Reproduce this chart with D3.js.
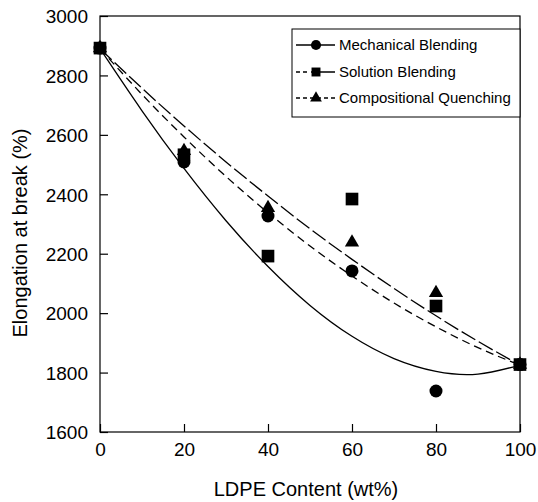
<!DOCTYPE html>
<html>
<head>
<meta charset="utf-8">
<script src="https://cdn.jsdelivr.net/npm/d3@7"></script>
<style>
  body { margin: 0; background: #fff; }
  svg { display: block; }
  text { font-family: "Liberation Sans", Arial, sans-serif; fill: #000; }
</style>
</head>
<body>
<svg id="chart" width="538" height="502"></svg>
<script>
// ---- data ----
const ldpe = [0, 20, 40, 60, 80, 100];
const mechanical = [2892, 2509, 2327, 2142, 1738, 1827];
const solution = [2892, 2533, 2192, 2384, 2024, 1827];
const quenching = [2892, 2546, 2354, 2238, 2068, 1827];

// fitted trend curves
const fitX = [0, 10, 20, 30, 40, 50, 60, 70, 80, 90, 100];
const mechanicalFit = [2890, 2681, 2487, 2311, 2157, 2026, 1922, 1847, 1804, 1795, 1825];
const solutionFit = [2890, 2757, 2630, 2509, 2394, 2284, 2181, 2083, 1991, 1905, 1825];
const quenchingFit = [2890, 2736, 2593, 2460, 2338, 2226, 2125, 2034, 1954, 1884, 1825];

const xTicks = [0, 20, 40, 60, 80, 100];
const yTicks = [1600, 1800, 2000, 2200, 2400, 2600, 2800, 3000];
const legendLabels = ["Mechanical Blending", "Solution Blending", "Compositional Quenching"];

// ---- drawing ----
const svg = d3.select("#chart");
const x = d3.scaleLinear().domain([0, 100]).range([100, 520]);
const y = d3.scaleLinear().domain([1600, 3000]).range([432, 16]);

// frame
svg.append("rect").attr("x", 100).attr("y", 16).attr("width", 420).attr("height", 416)
  .attr("fill", "none").attr("stroke", "#000").attr("stroke-width", 1.2);

// axes with inward ticks
const xAxis = svg.append("g").attr("transform", "translate(0,432)")
  .call(d3.axisBottom(x).tickValues(xTicks).tickSizeInner(-8).tickSizeOuter(0).tickPadding(0).tickFormat(d3.format("d")));
xAxis.select(".domain").remove();
xAxis.selectAll("line").attr("stroke", "#000").attr("stroke-width", 1.2);
xAxis.selectAll("text").attr("y", 24).attr("dy", 0).style("font-size", "19px")
  .style("font-family", "'Liberation Sans', Arial, sans-serif");

const yAxis = svg.append("g").attr("transform", "translate(100,0)")
  .call(d3.axisLeft(y).tickValues(yTicks).tickSizeInner(-8).tickSizeOuter(0).tickPadding(0).tickFormat(d3.format("d")));
yAxis.select(".domain").remove();
yAxis.selectAll("line").attr("stroke", "#000").attr("stroke-width", 1.2);
yAxis.selectAll("text").attr("x", -12).attr("dy", "0.36em").style("font-size", "19px")
  .style("font-family", "'Liberation Sans', Arial, sans-serif");

// axis titles
svg.append("text").attr("x", 306).attr("y", 496).attr("text-anchor", "middle")
  .style("font-size", "20px").text("LDPE Content (wt%)");
svg.append("text").attr("transform", "translate(27,233) rotate(-90)").attr("text-anchor", "middle")
  .style("font-size", "20px").text("Elongation at break (%)");

// fit curves
const line = d3.line().x(d => x(d[0])).y(d => y(d[1])).curve(d3.curveNatural);
const styles = [
  { fit: mechanicalFit, dash: null, sym: d3.symbolCircle, size: 133, vals: mechanical, legDash: null },
  { fit: solutionFit, dash: "16,4", sym: d3.symbolSquare, size: 160, vals: solution, legDash: "4,3,4,4,40" },
  { fit: quenchingFit, dash: "8,5", sym: d3.symbolTriangle, size: 88, vals: quenching, legDash: "4,3" }
];
styles.forEach(s => {
  svg.append("path").datum(fitX.map((v, i) => [v, s.fit[i]]))
    .attr("d", line).attr("fill", "none").attr("stroke", "#000").attr("stroke-width", 1.3)
    .attr("stroke-dasharray", s.dash);
});

// markers
styles.forEach(s => {
  svg.append("g").selectAll("path").data(ldpe.map((v, i) => [v, s.vals[i]])).join("path")
    .attr("transform", d => `translate(${x(d[0])},${y(d[1])})`)
    .attr("d", d3.symbol().type(s.sym).size(s.size)).attr("fill", "#000");
});

// legend
const lg = svg.append("g");
lg.append("rect").attr("x", 292).attr("y", 29).attr("width", 228).attr("height", 88)
  .attr("fill", "#fff").attr("stroke", "#000").attr("stroke-width", 1);
const rows = [45, 72, 98];
const legendSizes = [80, 80, 60];
styles.forEach((s, i) => {
  lg.append("line").attr("x1", 296).attr("x2", 335).attr("y1", rows[i]).attr("y2", rows[i])
    .attr("stroke", "#000").attr("stroke-width", 1.3).attr("stroke-dasharray", s.legDash);
  lg.append("path").attr("transform", `translate(316,${rows[i]})`)
    .attr("d", d3.symbol().type(s.sym).size(legendSizes[i])).attr("fill", "#000");
  lg.append("text").attr("x", 339).attr("y", rows[i]).attr("dy", "0.36em")
    .style("font-size", "15px").text(legendLabels[i]);
});
</script>
</body>
</html>
